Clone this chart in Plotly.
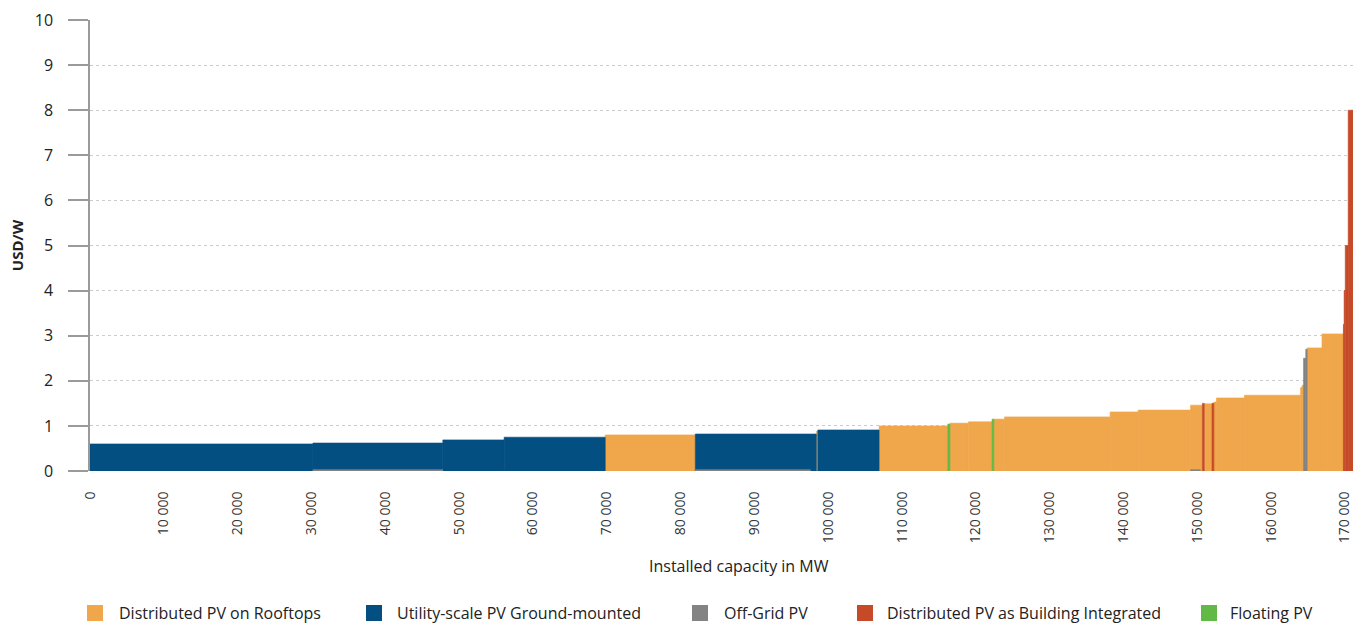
import plotly.graph_objects as go

# ---- Data -------------------------------------------------------------
ROOF = "Distributed PV on Rooftops"
UTIL = "Utility-scale PV Ground-mounted"
OFFG = "Off-Grid PV"
BIPV = "Distributed PV as Building Integrated"
FLOAT = "Floating PV"

series_order = [ROOF, UTIL, OFFG, BIPV, FLOAT]
series_colors = ["#F0A64A", "#044F82", "#838383", "#C64A28", "#62B946"]

# consecutive segments of the cost-supply curve
seg_tech = [UTIL, UTIL, UTIL, UTIL, ROOF, UTIL, ROOF, UTIL, ROOF, FLOAT,
            ROOF, ROOF, FLOAT, ROOF, ROOF, ROOF, ROOF, ROOF, BIPV, ROOF,
            BIPV, ROOF, ROOF, ROOF, ROOF, ROOF, OFFG, OFFG, ROOF, ROOF,
            BIPV, BIPV, BIPV, BIPV]
seg_mw = [30200, 17600, 8300, 13700, 12200, 16400, 200, 8300, 9300, 300,
          2500, 3200, 250, 1450, 14300, 3800, 7100, 1600, 250, 1050,
          250, 350, 3800, 7600, 200, 200, 300, 200, 2000, 2900,
          100, 150, 400, 650]
seg_cost = [0.60, 0.62, 0.69, 0.75, 0.80, 0.82, 0.88, 0.91, 1.00, 1.04,
            1.06, 1.09, 1.15, 1.15, 1.20, 1.31, 1.35, 1.46, 1.50, 1.49,
            1.50, 1.53, 1.62, 1.68, 1.85, 1.90, 2.50, 2.70, 2.73, 3.04,
            3.25, 4.00, 5.00, 8.00]

# very small off-grid entries lying along the baseline
small_offgrid_start = [30200, 82000, 149100]
small_offgrid_mw = [17600, 15600, 1300]
small_offgrid_cost = [0.03, 0.03, 0.03]

x_tickvals = list(range(0, 170001, 10000))
x_ticktext = ["0", "10 000", "20 000", "30 000", "40 000", "50 000", "60 000",
              "70 000", "80 000", "90 000", "100 000", "110 000", "120 000",
              "130 000", "140 000", "150 000", "160 000", "170 000"]
y_tickvals = list(range(0, 11))

# ---- Layout constants (pixels) ---------------------------------------
W, H = 1362, 624
ML, MR, MT, MB = 90, 9, 20, 153
PW, PH = W - ML - MR, H - MT - MB
legend_square_px = [87, 366, 692, 857, 1201]   # left edge of each legend square
legend_text_px = [117, 395, 722, 885, 1228]    # left edge of each legend label
legend_top_px, legend_bottom_px = 605, 621


def px_x(p):
    return (p - ML) / PW


def px_y(p):
    return (H - MB - p) / PH


# ---- Build ------------------------------------------------------------
starts = []
acc = 0
for w in seg_mw:
    starts.append(acc)
    acc += w
x_max = acc

FONT = "Open Sans, Noto Sans, sans-serif"
fig = go.Figure()
for name, color in zip(series_order, series_colors):
    xs, ws, ys = [], [], []
    for t, s, w, c in zip(seg_tech, starts, seg_mw, seg_cost):
        if t == name:
            xs.append(s + w / 2)
            ws.append(w)
            ys.append(c)
    if name == OFFG:
        for s, w, c in zip(small_offgrid_start, small_offgrid_mw, small_offgrid_cost):
            xs.append(s + w / 2)
            ws.append(w)
            ys.append(c)
    fig.add_trace(go.Bar(
        x=xs, y=ys, width=ws, name=name, showlegend=False,
        marker=dict(color=color, line=dict(width=0.6, color=color)),
        hovertemplate="%{y:.2f} USD/W<extra>" + name + "</extra>",
    ))

# legend drawn as squares + labels below the axis
shapes, annotations = [], []
for name, color, sq, tx in zip(series_order, series_colors, legend_square_px, legend_text_px):
    shapes.append(dict(type="rect", xref="paper", yref="paper",
                       x0=px_x(sq), x1=px_x(sq + 16),
                       y0=px_y(legend_bottom_px), y1=px_y(legend_top_px),
                       fillcolor=color, line=dict(width=0)))
    annotations.append(dict(text=name, xref="paper", yref="paper",
                            x=px_x(tx), y=px_y((legend_top_px + legend_bottom_px) / 2),
                            xanchor="left", yanchor="middle", showarrow=False,
                            font=dict(size=16, color="#222222")))

annotations.append(dict(text="Installed capacity in MW", xref="paper", yref="paper",
                        x=px_x(739), y=px_y(566), xanchor="center", yanchor="middle",
                        showarrow=False, font=dict(size=16, color="#222222")))

fig.update_layout(
    width=W, height=H,
    barmode="overlay",
    plot_bgcolor="white", paper_bgcolor="white",
    margin=dict(l=ML, r=MR, t=MT, b=MB, autoexpand=False),
    font=dict(family=FONT, size=14, color="#222222"),
    showlegend=False,
    xaxis=dict(range=[0, x_max], tickvals=x_tickvals, ticktext=x_ticktext,
               tickangle=-90, showgrid=False, zeroline=False, showline=False,
               ticks="outside", ticklen=14, tickcolor="rgba(0,0,0,0)",
               automargin=False,
               tickfont=dict(size=14, color="#333333")),
    yaxis=dict(range=[0, 10], tickvals=y_tickvals, showgrid=True,
               gridcolor="#CCCCCC", griddash="3px,3px", gridwidth=1,
               zeroline=False, showline=True, linecolor="#9A9A9A", linewidth=1.5,
               ticks="outside", ticklen=20, tickcolor="#9A9A9A", tickwidth=1.5,
               ticklabelstandoff=12, automargin=False,
               tickfont=dict(size=16, color="#222222"),
               title=dict(text="<b>USD/W</b>", font=dict(size=15, color="#222222"),
                          standoff=8)),
    shapes=shapes,
    annotations=annotations,
)

# remove the default page margin so the figure fills the window exactly
fig.write_html("out.html",
               config={"displayModeBar": False},
               post_script="document.body.style.margin='0';"
                           "document.body.style.overflow='hidden';")
